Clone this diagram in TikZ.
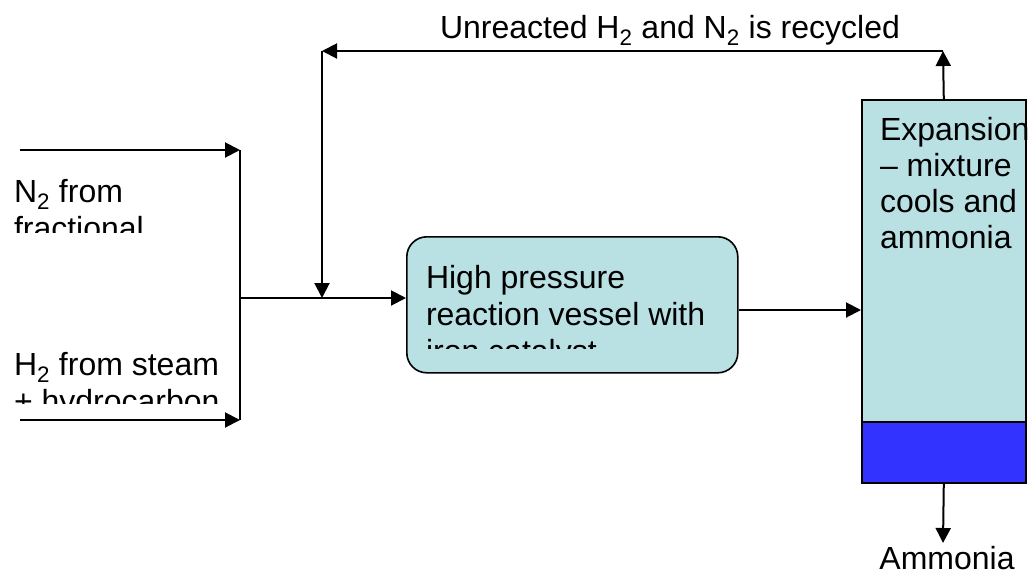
\documentclass[tikz,border=0pt]{standalone}
\usepackage{fontspec}
\setmainfont{Liberation Sans}
\usetikzlibrary{arrows.meta}
\definecolor{boxfill}{HTML}{B9E0E3}
\definecolor{bandblue}{HTML}{3333FF}
\begin{document}
\begin{tikzpicture}[x=1pt,y=-1pt,line width=2pt,
  flow/.style={-{Triangle[length=15pt,width=15pt]}},
  txt/.style={anchor=base west,inner sep=0pt,font=\fontsize{32}{37}\selectfont},
  rvbox/.style={draw,line width=1.6pt,fill=boxfill,rounded corners=20pt,anchor=north west,inner sep=0pt},
  exbox/.style={draw,line width=1.6pt,fill=boxfill,anchor=north west,inner sep=0pt},
  bandbox/.style={draw,line width=1.6pt,fill=bandblue,anchor=north west,inner sep=0pt}]
\useasboundingbox (0,0) rectangle (1029,571);
% boxes
\node[rvbox,minimum width=331pt,minimum height=136pt] (rv) at (406,236) {};
\node[exbox,minimum width=164pt,minimum height=383pt] (ex) at (861,99) {};
\node[bandbox,minimum width=164pt,minimum height=61pt] (band) at (861,421) {};
% texts
\begin{scope}
  \clip (0,160) rectangle (238,232);
  \node[txt] (n2a) at (13,202) {N\textsubscript{2} from};
  \node[txt] (n2b) at (13,239) {fractional};
\end{scope}
\begin{scope}
  \clip (0,330) rectangle (238,403);
  \node[txt] (h2a) at (13,375) {H\textsubscript{2} from steam};
  \node[txt] (h2b) at (13,412) {+ hydrocarbon};
\end{scope}
\begin{scope}
  \clip (408,238) rectangle (735,348);
  \node[txt] (rva) at (425,288) {High pressure};
  \node[txt] (rvb) at (425,325) {reaction vessel with};
  \node[txt] (rvc) at (425,362) {iron catalyst};
\end{scope}
\begin{scope}
  \clip (862,100) rectangle (1027,420);
  \node[txt] (exa) at (879,140) {Expansion};
  \node[txt] (exb) at (879,176) {-- mixture};
  \node[txt] (exc) at (879,212) {cools and};
  \node[txt] (exd) at (879,248) {ammonia};
\end{scope}
\node[txt] (rec) at (439,38) {Unreacted H\textsubscript{2} and N\textsubscript{2} is recycled};
\node[txt,anchor=base] (amm) at (947,569) {Ammonia};
% connectors
\coordinate (n2s) at (20,150);
\coordinate (jt) at (240,150);
\coordinate (h2s) at (20,420);
\coordinate (jb) at (240,420);
\coordinate (jm) at (240,298);
\coordinate (rtop) at (943,51);
\coordinate (rleft) at (322,51);
\coordinate (rdown) at (322,298);
\coordinate (mid) at (737,310);
\coordinate (ammtip) at (943,543);
\draw[flow] (n2s) -- (jt);
\draw[flow] (h2s) -- (jb);
\draw (jt) -- (jb);
\draw[flow] (jm) -- (jm -| rv.west);
\draw[flow] (ex.north) -- (rtop);
\draw[flow] (rtop) -- (rleft);
\draw[flow] (rleft) -- (rdown);
\draw[flow] (rv.east |- mid) -- (ex.west |- mid);
\draw[flow] (band.south) -- (ammtip);
\end{tikzpicture}
\end{document}
